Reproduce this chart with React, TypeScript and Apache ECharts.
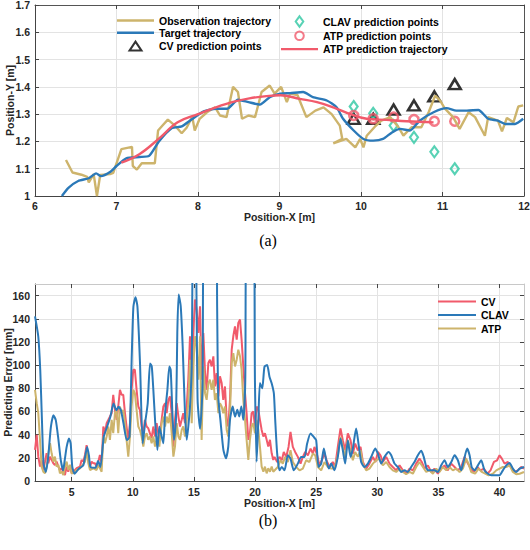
import { useEffect, useRef } from "react";
import * as echarts from "echarts";

// ---------- (a) trajectory chart data ----------
const observationTrajectory: [number, number][] = [
  [6.38, 1.132], [6.46, 1.086], [6.57, 1.078], [6.64, 1.07], [6.66, 1.05], [6.72, 1.08], [6.76, 1.0], [6.8, 1.077],
  [6.92, 1.08], [6.96, 1.085], [7.06, 1.172], [7.19, 1.18], [7.2, 1.11], [7.25, 1.097], [7.31, 1.12], [7.47, 1.12],
  [7.51, 1.24], [7.57, 1.26], [7.63, 1.28], [7.71, 1.26], [7.8, 1.23], [7.86, 1.25], [7.93, 1.29], [7.96, 1.24],
  [8.02, 1.283], [8.11, 1.307], [8.21, 1.325], [8.27, 1.295], [8.35, 1.289], [8.43, 1.4], [8.49, 1.381], [8.54, 1.283],
  [8.62, 1.295], [8.7, 1.289], [8.78, 1.381], [8.88, 1.405], [8.94, 1.375], [9.02, 1.4], [9.09, 1.344], [9.13, 1.375],
  [9.22, 1.37], [9.33, 1.289], [9.44, 1.313], [9.54, 1.325], [9.64, 1.3], [9.74, 1.258], [9.77, 1.21], [9.66, 1.193],
  [9.82, 1.209], [9.93, 1.178], [9.99, 1.209], [10.03, 1.178], [10.07, 1.221], [10.17, 1.254], [10.25, 1.276],
  [10.36, 1.289], [10.46, 1.252], [10.52, 1.221], [10.62, 1.252], [10.74, 1.252], [10.83, 1.307], [10.91, 1.368],
  [10.97, 1.35], [11.03, 1.32], [11.13, 1.289], [11.21, 1.246], [11.32, 1.307], [11.4, 1.289], [11.52, 1.221],
  [11.56, 1.289], [11.68, 1.276], [11.73, 1.237], [11.79, 1.286], [11.87, 1.27], [11.93, 1.328], [11.99, 1.332],
];

const targetTrajectory: [number, number][] = [
  [6.33, 1.0], [6.41, 1.03], [6.53, 1.055], [6.66, 1.065], [6.75, 1.083], [6.81, 1.073], [6.93, 1.09], [7.0, 1.11],
  [7.12, 1.138], [7.28, 1.143], [7.4, 1.147], [7.52, 1.2], [7.68, 1.249], [7.8, 1.255], [7.92, 1.28], [8.07, 1.31],
  [8.22, 1.32], [8.36, 1.32], [8.49, 1.353], [8.62, 1.344], [8.76, 1.335], [8.88, 1.362], [9.01, 1.375], [9.13, 1.377],
  [9.29, 1.381], [9.41, 1.362], [9.58, 1.35], [9.7, 1.325], [9.78, 1.283], [9.91, 1.24], [10.03, 1.209], [10.15, 1.203],
  [10.27, 1.209], [10.38, 1.233], [10.48, 1.246], [10.6, 1.24], [10.72, 1.276], [10.89, 1.307], [11.05, 1.322],
  [11.17, 1.313], [11.3, 1.313], [11.44, 1.315], [11.56, 1.283], [11.68, 1.276], [11.77, 1.264], [11.89, 1.264],
  [11.99, 1.283],
];

const atpTrajectory: [number, number][] = [
  [7.06, 1.122], [7.28, 1.153], [7.52, 1.21], [7.75, 1.27], [8.0, 1.3], [8.22, 1.325], [8.43, 1.345], [8.63, 1.358],
  [8.84, 1.366], [9.01, 1.369], [9.25, 1.356], [9.46, 1.344], [9.66, 1.325], [9.87, 1.3], [10.07, 1.283],
  [10.31, 1.279], [10.56, 1.274], [10.89, 1.27],
];

const predictionX = [9.91, 10.15, 10.4, 10.65, 10.9, 11.15];
const cvPointsY = [1.283, 1.283, 1.317, 1.332, 1.365, 1.41];
const clavPointsY = [1.328, 1.303, 1.258, 1.215, 1.162, 1.1];
const atpPointsY = [1.295, 1.283, 1.289, 1.28, 1.274, 1.274];

// ---------- (b) predicting error data ----------
const cvError: [number, number][] = [
  [2.0, 26.8], [2.14, 39.8], [2.27, 21], [2.41, 12.4], [2.54, 18.2], [2.68, 9.5], [2.82, 16.7], [2.95, 24], [3.09, 15.3],
  [3.23, 21], [3.36, 18.2], [3.5, 15.3], [3.63, 13.8], [3.77, 16.7], [3.91, 12.4], [4.04, 9.5], [4.18, 11], [4.32, 8],
  [4.45, 5.2], [4.59, 12.4], [4.72, 8], [4.86, 13.8], [5.0, 6.6], [5.13, 8], [5.41, 11], [5.68, 12.4], [5.81, 18.2],
  [5.95, 16.7], [6.09, 22.5], [6.22, 31], [6.36, 19.6], [6.5, 12.4], [6.63, 16.7], [6.77, 15.3], [6.9, 15.3],
  [7.04, 12.4], [7.18, 16.7], [7.31, 22.5], [7.45, 15.3], [7.59, 47], [7.72, 41.2], [7.86, 49.9], [8.0, 52.8],
  [8.13, 55.6], [8.27, 58.5], [8.4, 74.4], [8.54, 61.4], [8.68, 52.8], [8.81, 64.3], [8.95, 78.7], [9.08, 74.4],
  [9.22, 74.4], [9.36, 58.5], [9.49, 47], [9.63, 35.5], [9.77, 49.9], [9.9, 78.7], [10.04, 96], [10.17, 96],
  [10.31, 78.7], [10.45, 64.3], [10.58, 61.4], [10.72, 47], [10.86, 41.2], [10.99, 52.8], [11.13, 47], [11.26, 45.6],
  [11.4, 41.2], [11.54, 36.9], [11.68, 47], [11.82, 38.4], [11.95, 49.9], [12.17, 35.5], [12.36, 52.8], [12.5, 64.3],
  [12.64, 67.2], [12.77, 58.5], [12.91, 70], [13.04, 73], [13.18, 58.5], [13.32, 29.7], [13.45, 52.8], [13.59, 67.2],
  [13.73, 55.6], [13.86, 47], [14.0, 52.8], [14.13, 58.5], [14.27, 49.9], [14.41, 64.3], [14.54, 87.4], [14.68, 124.9],
  [14.82, 87.4], [14.95, 127.7], [15.09, 156.6], [15.22, 147.9], [15.36, 127.7], [15.5, 150.8], [15.63, 87.4],
  [15.77, 127.7], [15.91, 93.1], [16.04, 78.7], [16.18, 101.8], [16.31, 104.7], [16.45, 98.9], [16.59, 107.6],
  [16.72, 81.6], [16.86, 93.1], [17.0, 73], [17.13, 90.3], [17.27, 84.5], [17.4, 70], [17.54, 81.6], [17.68, 52.8],
  [17.81, 47], [17.95, 70], [18.09, 113.3], [18.22, 124.9], [18.36, 133.5], [18.5, 122], [18.63, 136.4], [18.77, 139.3],
  [18.9, 122], [19.04, 98.9], [19.18, 75.8], [19.31, 58.5], [19.45, 35.5], [19.58, 41.2], [19.72, 58.5], [19.86, 60],
  [19.99, 47], [20.13, 64.3], [20.27, 61.4], [20.4, 52.8], [20.54, 44.1], [20.68, 38.4], [20.81, 41.2], [20.95, 35.5],
  [21.08, 29.7], [21.22, 35.5], [21.36, 23.9], [21.49, 18.2], [21.59, 20.8], [21.81, 16.4], [22.0, 20.8], [22.19, 17.9],
  [22.35, 25.1], [22.55, 20.8], [22.74, 29.4], [22.9, 42.4], [23.09, 29.4], [23.28, 25.1], [23.5, 20.8], [23.72, 15],
  [23.91, 20.8], [24.1, 25.1], [24.32, 22.2], [24.54, 28], [24.73, 23.6], [24.86, 29.4], [25.08, 22.2], [25.27, 13.5],
  [25.46, 17.9], [25.68, 23.6], [25.9, 16.4], [26.12, 12.1], [26.36, 16.4], [26.55, 12.1], [26.77, 29.4], [26.99, 45.3],
  [27.18, 35.2], [27.37, 26.5], [27.59, 41], [27.81, 35.2], [28.0, 23.6], [28.19, 32.3], [28.41, 26.5], [28.63, 29.4],
  [28.82, 16.4], [29.09, 10.7], [29.36, 15], [29.64, 20.8], [29.85, 16.4], [30.05, 25.1], [30.26, 22.2], [30.45, 16.4],
  [30.73, 20.8], [31.0, 15], [31.27, 12.1], [31.55, 9.2], [31.82, 13.5], [32.09, 9.2], [32.36, 6.3], [32.64, 10.7],
  [32.91, 9.2], [33.18, 15], [33.45, 19.3], [33.64, 16.4], [33.86, 10.7], [34.14, 13.5], [34.41, 7.8], [34.68, 10.7],
  [34.95, 6.3], [35.23, 10.7], [35.5, 13.5], [35.77, 9.2], [36.05, 15], [36.32, 12.1], [36.59, 9.2], [36.86, 12.1],
  [37.14, 20.8], [37.35, 16.4], [37.63, 10.7], [37.9, 7.8], [38.18, 12.1], [38.45, 9.2], [38.72, 10.7], [39.0, 6.3],
  [39.26, 9.2], [39.54, 16.4], [39.8, 17.9], [40.0, 22.2], [40.19, 19.3], [40.41, 15], [40.68, 16.4], [40.95, 12.1],
  [41.23, 7.8], [41.5, 9.2], [41.77, 12.1], [42.0, 10.7],
];

const clavError: [number, number][] = [
  [2.0, 142], [2.27, 124.5], [2.43, 95.7], [2.57, 52], [2.7, 15], [2.89, 7.8], [3.08, 20.7], [3.3, 46.7], [3.51, 56.8],
  [3.7, 52.5], [3.89, 38], [4.11, 17.9], [4.3, 9.2], [4.43, 17.9], [4.59, 29.4], [4.78, 36.6], [4.92, 32.3], [5.05, 12.1],
  [5.24, 6.3], [5.59, 10.7], [5.95, 13.5], [6.27, 29.4], [6.41, 22.2], [6.54, 12.1], [6.95, 11.5], [7.16, 17.3],
  [7.35, 12.1], [7.62, 38], [7.89, 46.7], [8.16, 55.3], [8.43, 66.9], [8.65, 61.1], [8.84, 64], [9.03, 61.1],
  [9.24, 49.6], [9.51, 35.2], [9.73, 38], [9.92, 110], [10.05, 150.5], [10.22, 158.5], [10.38, 150.5], [10.59, 101.5],
  [10.81, 32.3], [11.0, 49.6], [11.22, 66.9], [11.41, 101.5], [11.55, 99], [11.68, 78.7], [11.82, 52.8], [12.01, 26.8],
  [12.17, 47], [12.36, 38.4], [12.5, 32.6], [12.64, 58.5], [12.83, 78.7], [12.99, 98.9], [13.1, 96], [13.24, 58.5],
  [13.37, 35.5], [13.53, 52.8], [13.64, 127.7], [13.75, 160.9], [13.92, 150.8], [14.08, 116], [14.27, 58.5],
  [14.41, 35.5], [14.54, 47], [14.68, 64.3], [14.82, 98.9], [14.95, 250], [15.1, 250], [15.3, 70], [15.5, 45],
  [15.7, 80], [15.88, 250], [16.8, 250], [16.9, 150], [16.99, 73], [17.19, 50], [17.41, 26.8], [17.62, 19.6],
  [17.81, 29.7], [17.95, 52.8], [18.17, 64.3], [18.36, 55.6], [18.55, 61.4], [18.71, 55.6], [18.88, 64.3],
  [19.04, 52.8], [19.2, 87], [19.31, 220], [19.86, 220], [19.99, 87], [20.13, 16.7], [20.27, 52.8], [20.4, 84.5],
  [20.59, 80], [20.77, 98.6], [20.99, 100], [21.18, 90], [21.37, 84], [21.54, 75.5], [21.65, 52.5], [21.81, 23.6],
  [22.0, 9.2], [22.19, 12.1], [22.41, 9.2], [22.68, 22.2], [22.9, 19.3], [23.17, 9.2], [23.5, 15], [23.77, 20.8],
  [24.05, 20.8], [24.26, 32.3], [24.54, 41], [24.8, 38], [25.0, 35.2], [25.19, 12.1], [25.41, 15], [25.63, 28],
  [25.82, 17.9], [26.04, 10.7], [26.23, 15], [26.5, 9.2], [26.77, 20.8], [26.99, 36.6], [27.18, 26.5], [27.37, 15],
  [27.59, 35.2], [27.81, 20.8], [28.0, 28], [28.27, 45.3], [28.46, 32.3], [28.68, 16.4], [28.95, 12.1], [29.23, 15],
  [29.5, 20.8], [29.83, 28], [30.05, 23.6], [30.32, 15], [30.59, 20.8], [30.92, 25.1], [31.14, 22.2], [31.41, 15],
  [31.68, 12.1], [31.95, 7.8], [32.23, 9.2], [32.5, 7.8], [32.77, 12.1], [33.04, 16.4], [33.32, 22.2], [33.6, 26],
  [33.8, 20.8], [34.0, 12.1], [34.14, 9.2], [34.41, 9.2], [34.68, 9.2], [34.95, 7.8], [35.23, 13.5], [35.5, 17.9],
  [35.77, 12.1], [36.05, 16.4], [36.32, 22.2], [36.59, 17.9], [36.86, 9.2], [37.05, 16.4], [37.35, 28], [37.55, 22.2],
  [37.72, 12.1], [37.95, 9.2], [38.23, 13.5], [38.5, 17.9], [38.77, 9.2], [39.05, 6.3], [39.32, 4.9], [39.73, 4.9],
  [40.0, 4.9], [40.27, 9.2], [40.55, 13.5], [40.82, 15.6], [41.09, 10.7], [41.36, 7.8], [41.64, 10.7], [42.0, 12.1],
];

const atpError: [number, number][] = [
  [2.0, 78.7], [2.14, 67.2], [2.27, 58.5], [2.41, 35.5], [2.54, 12.4], [2.68, 8], [2.82, 6.6], [2.95, 12.4], [3.09, 23.9],
  [3.23, 32.6], [3.36, 23.9], [3.5, 16.7], [3.63, 21], [3.77, 12.4], [3.91, 13.8], [4.04, 6.6], [4.18, 8], [4.32, 5.2],
  [4.45, 12.4], [4.59, 16.7], [4.72, 9.5], [4.86, 13.8], [5.0, 6.6], [5.13, 6.6], [5.41, 9.5], [5.68, 11], [5.9, 13.8],
  [6.09, 16.7], [6.22, 26.8], [6.36, 15.3], [6.5, 9.5], [6.77, 11], [7.04, 9.5], [7.18, 13.8], [7.31, 11], [7.45, 8],
  [7.59, 38.4], [7.72, 32.6], [7.86, 38.4], [8.0, 47], [8.13, 35.5], [8.27, 52.8], [8.4, 41.2], [8.54, 58.5],
  [8.68, 61.4], [8.81, 41.2], [8.95, 64.3], [9.08, 58.5], [9.22, 61.4], [9.36, 49.9], [9.49, 35.5], [9.63, 21],
  [9.77, 38.4], [9.9, 64.3], [10.04, 78.7], [10.17, 75.8], [10.31, 61.4], [10.45, 47], [10.58, 44.1], [10.72, 38.4],
  [10.86, 29.7], [10.99, 38.4], [11.13, 41.2], [11.26, 35.5], [11.4, 38.4], [11.54, 32.6], [11.68, 38.4], [11.82, 29.7],
  [12.01, 38.4], [12.17, 29.7], [12.36, 49.9], [12.5, 55.6], [12.64, 47], [12.77, 55.6], [12.91, 49.9], [13.04, 58.5],
  [13.18, 41.2], [13.32, 21], [13.45, 29.7], [13.59, 49.9], [13.73, 38.4], [13.86, 35.5], [14.0, 44.1], [14.13, 47],
  [14.27, 38.4], [14.41, 52.8], [14.54, 67.2], [14.68, 104.7], [14.82, 49.9], [14.95, 98.9], [15.09, 124.9],
  [15.22, 116.2], [15.36, 87.4], [15.5, 124.9], [15.63, 35.5], [15.77, 98.9], [15.91, 75.8], [16.04, 70], [16.18, 84.5],
  [16.31, 87.4], [16.45, 78.7], [16.59, 87.4], [16.72, 70], [16.86, 75.8], [17.0, 58.5], [17.13, 67.2], [17.27, 64.3],
  [17.4, 58.5], [17.54, 64.3], [17.68, 44.1], [17.81, 38.4], [17.95, 58.5], [18.09, 101.8], [18.22, 110.4],
  [18.36, 98.9], [18.5, 104.7], [18.63, 113.3], [18.77, 107.6], [18.9, 96], [19.04, 70], [19.18, 52.8], [19.31, 35.5],
  [19.45, 18.2], [19.58, 35.5], [19.72, 47], [19.86, 49.9], [19.99, 41.2], [20.13, 52.8], [20.27, 44.1], [20.4, 29.7],
  [20.54, 12.4], [20.68, 8], [20.81, 12.4], [20.95, 6.6], [21.08, 11], [21.22, 8], [21.36, 12.4], [21.49, 8],
  [21.86, 12.1], [22.08, 17.9], [22.27, 15], [22.46, 20.8], [22.68, 16.4], [22.9, 26.5], [23.09, 16.4], [23.36, 12.1],
  [23.64, 9.2], [23.91, 10.7], [24.18, 17.9], [24.45, 16.4], [24.73, 23.6], [24.92, 22.2], [25.14, 12.1], [25.41, 9.2],
  [25.68, 16.4], [25.95, 12.1], [26.23, 10.7], [26.5, 10.7], [26.77, 22.2], [26.99, 38], [27.18, 29.4], [27.37, 20.8],
  [27.59, 35.2], [27.81, 26.5], [28.0, 17.9], [28.19, 25.1], [28.41, 20.8], [28.63, 26.5], [28.82, 15], [29.09, 9.2],
  [29.36, 10.7], [29.64, 15], [29.91, 17.9], [30.18, 19.3], [30.45, 13.5], [30.73, 16.4], [31.0, 12.1], [31.27, 9.2],
  [31.55, 7.8], [31.82, 10.7], [32.09, 7.8], [32.36, 5.8], [32.64, 7.8], [32.91, 6.3], [33.18, 12.1], [33.45, 16.4],
  [33.73, 12.1], [34.0, 7.8], [34.27, 9.2], [34.55, 6.3], [34.82, 10.7], [35.09, 7.8], [35.36, 12.1], [35.64, 9.2],
  [35.91, 12.1], [36.18, 9.2], [36.45, 10.7], [36.73, 7.8], [37.0, 10.7], [37.27, 19.3], [37.46, 15], [37.68, 7.8],
  [38.0, 6.3], [38.28, 10.7], [38.55, 7.8], [38.82, 6.3], [39.1, 4.9], [39.45, 6.3], [39.73, 9.2], [40.0, 10.7],
  [40.27, 12.1], [40.55, 12.1], [40.82, 13.5], [41.09, 7.8], [41.36, 5.8], [41.64, 6.3], [42.0, 7.8],
];

const errorXTicks = [5, 10, 15, 20, 25, 30, 35, 40];
const errorYTicks = [0, 20, 40, 60, 80, 100, 120, 140, 160];

// ---------- styling ----------
const FONT = "'Liberation Sans', Arial, Helvetica, sans-serif";
const TXT = "#262626";
const GOLD = "#CDB46C";
const BLUE = "#2B79B8";
const RED = "#F15A6B";
const TEAL = "#2EC7A3";
const GRIDC = "#e3e3e3";
const FS = 10.5;

const labelStyle = { fontFamily: FONT, fontWeight: "bold" as const, fontSize: FS, color: TXT };

// legend icons (bounding box padded to the full item box so nothing is stretched)
const ICON_LINE_A = "path://M0,0M37,11M0,4.3L37,4.3L37,6.7L0,6.7Z";
const ICON_TRI = "path://M0,0M37,11M12.5,10L18.5,1L24.5,10Z";
const ICON_DIA = "path://M0,0M37,11M18.5,0.3L22.3,5.5L18.5,10.7L14.7,5.5Z";
const ICON_CIR = "path://M0,0M37,11M14.2,5.5A4.3,4.3,0,1,1,22.8,5.5A4.3,4.3,0,1,1,14.2,5.5Z";
const ICON_LINE_B = "path://M0,0M38,11M0,4.5L38,4.5L38,6.5L0,6.5Z";

function boxAxis(gridIndex: number, pos: string, min: number, max: number, extra: any, lineColor: string) {
  return {
    gridIndex, type: "value", position: pos, min, max, ...extra,
    axisLine: { show: true, onZero: false, lineStyle: { color: lineColor, width: 1 } },
    axisTick: { show: true, inside: true, length: 4, lineStyle: { color: "#444" }, ...(extra.axisTick || {}) },
    axisLabel: { show: false },
    splitLine: { show: false },
  };
}

export default function App() {
  const ref = useRef<HTMLDivElement>(null);
  useEffect(() => {
    const chart = echarts.init(ref.current!, undefined, { renderer: "svg" });
    const option: any = {
      animation: false,
      backgroundColor: "#fff",
      textStyle: { fontFamily: FONT },
      grid: [
        { left: 35, top: 5, width: 489, height: 191, outerBoundsMode: "none", containLabel: false },
        { left: 35, top: 284, width: 489, height: 197, outerBoundsMode: "none", containLabel: false },
      ],
      xAxis: [
        {
          gridIndex: 0, type: "value", min: 6, max: 12, interval: 1, position: "bottom",
          axisLine: { show: true, onZero: false, lineStyle: { color: "#444" } },
          axisTick: { inside: true, length: 4, lineStyle: { color: "#444" } },
          axisLabel: { ...labelStyle, margin: 4 },
          splitLine: { show: true, lineStyle: { color: GRIDC } },
          name: "Position-X [m]", nameLocation: "middle", nameGap: 15, nameMoveOverlap: false, nameTextStyle: labelStyle,
        },
        boxAxis(0, "top", 6, 12, { interval: 1 }, "#555"),
        {
          gridIndex: 1, type: "value", min: 2, max: 42, position: "bottom",
          axisLine: { show: true, onZero: false, lineStyle: { color: "#444" } },
          axisTick: { inside: true, length: 4, lineStyle: { color: "#444" }, customValues: errorXTicks },
          axisLabel: { ...labelStyle, margin: 5, customValues: errorXTicks },
          splitLine: { show: true, lineStyle: { color: GRIDC } },
          name: "Position-X [m]", nameLocation: "middle", nameGap: 16, nameMoveOverlap: false, nameTextStyle: labelStyle,
        },
        boxAxis(1, "top", 2, 42, { axisTick: { customValues: errorXTicks } }, "#c8c8c8"),
      ],
      yAxis: [
        {
          gridIndex: 0, type: "value", min: 1, max: 1.7, interval: 0.1, position: "left",
          axisLine: { show: true, onZero: false, lineStyle: { color: "#444" } },
          axisTick: { inside: true, length: 4, lineStyle: { color: "#444" } },
          axisLabel: { ...labelStyle, margin: 5 },
          splitLine: { show: true, lineStyle: { color: GRIDC } },
          name: "Position-Y [m]", nameLocation: "middle", nameGap: 20, nameMoveOverlap: false, nameTextStyle: labelStyle,
        },
        boxAxis(0, "right", 1, 1.7, { interval: 0.1 }, "#555"),
        {
          gridIndex: 1, type: "value", min: 0, max: 170, position: "left",
          axisLine: { show: true, onZero: false, lineStyle: { color: "#444" } },
          axisTick: { inside: true, length: 4, lineStyle: { color: "#444" }, customValues: errorYTicks },
          axisLabel: { ...labelStyle, margin: 5, customValues: errorYTicks },
          splitLine: { show: true, lineStyle: { color: GRIDC } },
          name: "Predicting Error [mm]", nameLocation: "middle", nameGap: 22, nameMoveOverlap: false, nameTextStyle: labelStyle,
        },
        boxAxis(1, "right", 0, 170, { axisTick: { customValues: errorYTicks } }, "#c8c8c8"),
      ],
      legend: [
        {
          left: 116, top: 15, padding: 0, orient: "vertical", itemWidth: 37, itemHeight: 11, itemGap: 1.3,
          textStyle: { ...labelStyle, color: "#000" }, selectedMode: false,
          data: [
            { name: "Observation trajectory", icon: ICON_LINE_A },
            { name: "Target trajectory", icon: ICON_LINE_A },
            { name: "CV prediction points", icon: ICON_TRI },
          ],
        },
        {
          left: 280, top: 15, padding: 0, orient: "vertical", itemWidth: 37, itemHeight: 11, itemGap: 1.3,
          textStyle: { ...labelStyle, color: "#000" }, selectedMode: false,
          data: [
            { name: "CLAV prediction points", icon: ICON_DIA },
            { name: "ATP prediction points", icon: ICON_CIR },
            { name: "ATP prediction trajectory", icon: ICON_LINE_A },
          ],
        },
        {
          left: 438, top: 296, padding: 0, orient: "vertical", itemWidth: 38, itemHeight: 11, itemGap: 2.5,
          textStyle: { ...labelStyle, color: "#000" }, selectedMode: false,
          data: [
            { name: "CV", icon: ICON_LINE_B },
            { name: "CLAV", icon: ICON_LINE_B },
            { name: "ATP", icon: ICON_LINE_B },
          ],
        },
      ],
      graphic: [
        {
          type: "text", x: 268, y: 240,
          style: { text: "(a)", textAlign: "center", textVerticalAlign: "middle", font: "16px 'Liberation Serif', 'Times New Roman', serif", fill: "#000" },
        },
        {
          type: "text", x: 268, y: 520,
          style: { text: "(b)", textAlign: "center", textVerticalAlign: "middle", font: "16px 'Liberation Serif', 'Times New Roman', serif", fill: "#000" },
        },
      ],
      series: [
        {
          name: "Observation trajectory", type: "line", xAxisIndex: 0, yAxisIndex: 0, data: observationTrajectory,
          symbol: "none", lineStyle: { color: GOLD, width: 2.4 }, itemStyle: { color: GOLD },
        },
        {
          name: "Target trajectory", type: "line", xAxisIndex: 0, yAxisIndex: 0, data: targetTrajectory,
          symbol: "none", smooth: 0.2, lineStyle: { color: BLUE, width: 2.4 }, itemStyle: { color: BLUE },
        },
        {
          name: "ATP prediction trajectory", type: "line", xAxisIndex: 0, yAxisIndex: 0, data: atpTrajectory,
          symbol: "none", smooth: 0.4, lineStyle: { color: RED, width: 2.4 }, itemStyle: { color: RED },
        },
        {
          name: "CV prediction points", type: "scatter", xAxisIndex: 0, yAxisIndex: 0,
          data: predictionX.map((x, i) => [x, cvPointsY[i]]), symbol: "triangle", symbolSize: [12, 10],
          itemStyle: { color: "rgba(255,255,255,0)", borderColor: "#000", borderWidth: 2.5 },
        },
        {
          name: "CLAV prediction points", type: "scatter", xAxisIndex: 0, yAxisIndex: 0,
          data: predictionX.map((x, i) => [x, clavPointsY[i]]), symbol: "diamond", symbolSize: [8, 11],
          itemStyle: { color: "rgba(255,255,255,0)", borderColor: TEAL, borderWidth: 2.2 },
        },
        {
          name: "ATP prediction points", type: "scatter", xAxisIndex: 0, yAxisIndex: 0,
          data: predictionX.map((x, i) => [x, atpPointsY[i]]), symbol: "circle", symbolSize: 9,
          itemStyle: { color: "rgba(255,255,255,0)", borderColor: RED, borderWidth: 2.5 },
        },
        {
          name: "CV", type: "line", xAxisIndex: 2, yAxisIndex: 2, data: cvError, symbol: "none",
          lineStyle: { color: RED, width: 2 }, itemStyle: { color: RED },
        },
        {
          name: "ATP", type: "line", xAxisIndex: 2, yAxisIndex: 2, data: atpError, symbol: "none",
          lineStyle: { color: GOLD, width: 2 }, itemStyle: { color: GOLD },
        },
        {
          name: "CLAV", type: "line", xAxisIndex: 2, yAxisIndex: 2, data: clavError, symbol: "none", smooth: 0.2,
          lineStyle: { color: BLUE, width: 2 }, itemStyle: { color: BLUE },
        },
      ],
    };
    chart.setOption(option);
    return () => chart.dispose();
  }, []);
  return (
    <div
      ref={ref}
      style={{ position: "absolute", left: 0, top: 0, width: 530, height: 550, background: "#fff" }}
    />
  );
}
